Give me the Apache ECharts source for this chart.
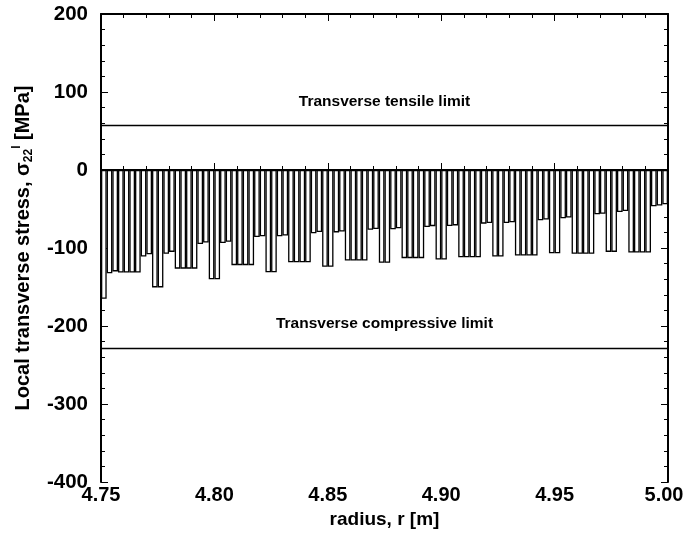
<!DOCTYPE html>
<html>
<head>
<meta charset="utf-8">
<script src="https://cdn.jsdelivr.net/npm/echarts@6/dist/echarts.min.js"></script>
<style>
    html, body { margin: 0; padding: 0; background: #fff; }
    #chart { width: 685px; height: 533px; }
</style>
</head>
<body>
<div id="chart"></div>
<script>
// ply index through the thickness, inner (r = 4.75 m) to outer (r = 5.00 m)
var plies = [];
for (var i = 1; i <= 100; i++) { plies.push(i); }

// local transverse stress per ply [MPa]
var stress = [
    -165,
    -132.5, -130, -131.5, -131.5, -131.5, -131.5, -111, -108, -150.5, -150.5,
    -107.5, -105, -126.5, -126.5, -126.5, -126.5, -95, -93, -140, -140,
    -93.5, -92, -122, -122, -122, -122, -86, -85, -131, -131,
    -85, -84, -118.3, -118.3, -118.3, -118.3, -81, -79.6, -124, -124,
    -80, -79, -116, -116, -116, -116, -76.6, -75.7, -119, -119,
    -76, -74.8, -113, -113, -113, -113, -73, -72, -114.8, -114.8,
    -71.8, -71, -111.8, -111.8, -111.8, -111.8, -68.8, -68, -111, -111,
    -68, -67, -109.7, -109.7, -109.7, -109.7, -64.5, -63.6, -106.7, -106.7,
    -62, -61, -107.5, -107.5, -107.5, -107.5, -56.8, -56, -105, -105,
    -53.8, -52.5, -105.8, -105.8, -105.8, -105.8, -46.5, -45.6, -44
];

var tensileLimit = 57;
var compressiveLimit = -228;

var radiusMin = 4.75, radiusMax = 5.00, radiusStep = 0.05;
var stressMin = -400, stressMax = 200, stressStep = 100;

var font = 'Liberation Sans';

var chart = echarts.init(document.getElementById('chart'));

var valueAxisCommon = {
    type: 'value',
    axisLine: { show: true, lineStyle: { color: '#000', width: 2 } },
    axisTick: { show: true, inside: true, length: 7, lineStyle: { color: '#000', width: 1 } },
    minorTick: { show: true, splitNumber: 5, length: 4, lineStyle: { color: '#000', width: 1 } },
    splitLine: { show: false },
    minorSplitLine: { show: false }
};

var option = {
    animation: false,
    backgroundColor: '#fff',
    grid: { left: 101, right: 17, top: 14, bottom: 51, containLabel: false, outerBoundsMode: 'none' },
    xAxis: [
        {
            type: 'category',
            data: plies,
            show: false,
            boundaryGap: true
        },
        Object.assign({}, valueAxisCommon, {
            position: 'bottom',
            min: radiusMin, max: radiusMax, interval: radiusStep,
            name: 'radius, r [m]',
            nameLocation: 'middle',
            nameGap: 25,
            nameTextStyle: { fontFamily: font, fontWeight: 'bold', fontSize: 19, color: '#000' },
            axisLabel: {
                fontFamily: font, fontWeight: 'bold', fontSize: 20, color: '#000', margin: 3,
                formatter: function (v) {
                    // keep the last label inside the page, as in the original
                    return v >= radiusMax ? '{end|' + v.toFixed(2) + '}' : v.toFixed(2);
                },
                rich: {
                    end: { fontFamily: font, fontWeight: 'bold', fontSize: 20, color: '#000', padding: [0, 8, 0, 0] }
                }
            }
        }),
        Object.assign({}, valueAxisCommon, {
            position: 'top',
            min: radiusMin, max: radiusMax, interval: radiusStep,
            axisLabel: { show: false }
        })
    ],
    yAxis: [
        Object.assign({}, valueAxisCommon, {
            position: 'left',
            min: stressMin, max: stressMax, interval: stressStep,
            name: '{a|Local transverse stress, }{s|σ}{sub|22}{sup|l}{a| [MPa]}',
            nameLocation: 'middle',
            nameRotate: 90,
            nameGap: 66,
            nameTextStyle: {
                fontFamily: font, fontWeight: 'bold', fontSize: 20, color: '#000',
                rich: {
                    a: { fontFamily: font, fontWeight: 'bold', fontSize: 20, lineHeight: 24, color: '#000' },
                    s: { fontFamily: font, fontSize: 20, lineHeight: 24, color: '#000' },
                    sub: { fontFamily: font, fontWeight: 'bold', fontSize: 12, lineHeight: 10, verticalAlign: 'bottom', color: '#000' },
                    sup: { fontFamily: font, fontWeight: 'bold', fontSize: 12, lineHeight: 14, verticalAlign: 'top', color: '#000' }
                }
            },
            axisLabel: { fontFamily: font, fontWeight: 'bold', fontSize: 20.5, color: '#000', margin: 13 }
        }),
        Object.assign({}, valueAxisCommon, {
            position: 'right',
            min: stressMin, max: stressMax, interval: stressStep,
            axisLabel: { show: false }
        })
    ],
    series: [
        {
            type: 'bar',
            xAxisIndex: 0,
            yAxisIndex: 0,
            data: stress,
            barCategoryGap: '0%',
            itemStyle: { color: '#fff', borderColor: '#000', borderWidth: 1.3 },
            silent: true,
            markLine: {
                silent: true,
                symbol: 'none',
                lineStyle: { color: '#000', width: 1.3, type: 'solid' },
                label: {
                    show: true,
                    position: 'middle',
                    distance: 16,
                    fontFamily: font,
                    fontWeight: 'bold',
                    fontSize: 15.5,
                    color: '#000'
                },
                data: [
                    { yAxis: tensileLimit, label: { formatter: 'Transverse tensile limit' } },
                    { yAxis: compressiveLimit, label: { formatter: 'Transverse compressive limit' } }
                ]
            }
        }
    ]
};

chart.setOption(option);
</script>
</body>
</html>
